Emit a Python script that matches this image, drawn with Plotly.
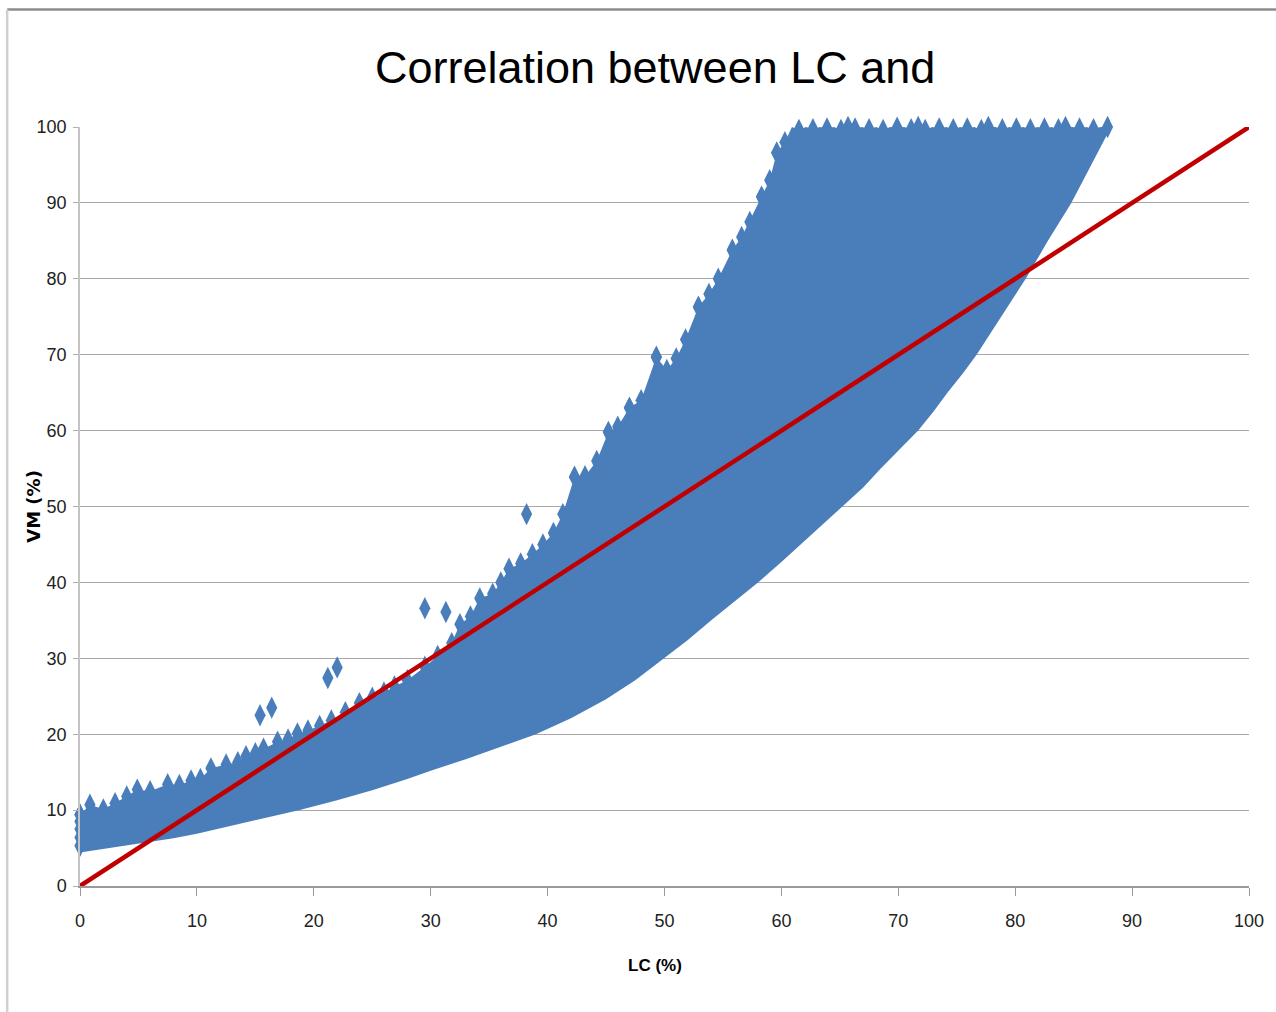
import plotly.graph_objects as go

# ---- data ----
# lower boundary of the dense cloud (LC %, VM %)
band_lower_lc = [0, 2, 5, 8, 10, 12, 14, 16, 18.8, 22, 25, 28, 30, 33, 35, 37, 39, 42, 45,
                 47.5, 50, 52, 54, 56, 58, 60, 62, 64, 65.3, 67, 68.5, 70, 71.7, 73, 74.2,
                 75.5, 76.7, 78.8, 80.9, 82.8, 84.8, 86.5, 88.2]
band_lower_vm = [4.4, 4.9, 5.6, 6.3, 6.9, 7.6, 8.3, 9.0, 10, 11.3, 12.6, 14.1, 15.2, 16.7, 17.8,
                 18.9, 20, 22.1, 24.6, 27.1, 30, 32.4, 35, 37.5, 40, 42.7, 45.5, 48.2, 50, 52.5,
                 55, 57.4, 60, 62.5, 65, 67.5, 70, 75, 80, 85, 90, 95, 100]

# upper edge of the cloud (centres of the outermost diamonds)
band_upper_lc = [0, 0.85, 2.0, 3.0, 4.0, 4.9, 6.0, 7.5, 8.5, 9.5, 10.3, 11.2, 12.5, 13.5,
                 14.2, 15.0, 15.7, 16.9, 17.8, 18.6, 19.5, 20.5, 21.5, 22.7, 23.9, 25.0,
                 26.0, 26.9, 28.0, 29.5, 30.6, 31.8, 32.5, 33.4, 34.2, 35.3, 36.0, 36.7,
                 37.7, 38.7, 39.6, 40.5, 41.3, 42.3, 43.2, 44.2, 45.2, 46.0, 47.0, 48.0,
                 49.3, 50.2, 51.0, 51.8, 52.9, 53.8, 54.6, 55.8, 56.6, 57.3, 58.3, 59.0,
                 59.6, 60.3, 60.9, 61.5, 62.1, 62.7, 63.3, 63.9, 64.5, 65.1, 65.7, 66.3,
                 66.9, 67.5, 68.1, 68.7, 69.3, 69.9, 70.5, 71.1, 71.7, 72.3, 72.9, 73.5,
                 74.1, 74.7, 75.3, 75.9, 76.5, 77.1, 77.7, 78.3, 78.9, 79.5, 80.1, 80.7,
                 81.3, 81.9, 82.5, 83.1, 83.7, 84.3, 84.9, 85.5, 86.1, 86.7, 87.3, 87.9]
band_upper_vm = [9.4, 10.7, 10.1, 10.9, 11.8, 12.7, 12.5, 13.4, 13.3, 13.9, 14.1, 15.5, 16.0, 16.3,
                 17.1, 17.5, 18.1, 19.0, 19.3, 20.1, 20.5, 21.1, 21.8, 22.9, 24.1, 24.8,
                 25.5, 26.3, 27.1, 28.9, 30.3, 32.0, 34.5, 35.5, 37.9, 38.5, 40.0, 41.8,
                 42.5, 43.7, 45.0, 46.5, 49.0, 53.9, 54.0, 56.0, 59.8, 60.5, 63.0, 64.0,
                 69.7, 68.0, 69.5, 72.0, 76.3, 78.0, 80.0, 83.8, 85.5, 87.5, 90.8, 93.0,
                 96.6, 98.0, 100.3, 99.6, 100.1, 99.7, 100.2, 99.8, 100.3, 99.6, 100.0, 99.8,
                 100.3, 99.7, 100.1, 99.6, 100.2, 99.9, 100.3, 99.7, 100.0, 99.6, 100.2, 99.8,
                 100.3, 99.7, 100.1, 99.8, 100.2, 99.6, 100.0, 100.3, 99.7, 100.1, 99.8, 100.2,
                 99.7, 100.1, 99.8, 100.3, 99.7, 100.0, 100.2, 99.8, 100.1, 99.7, 100.2, 100.0]

# left-edge diamonds at LC = 0
left_lc = [0, 0, 0, 0, 0]
left_vm = [5.3, 6.4, 7.5, 8.5, 9.4]

# isolated diamonds above the cloud
outlier_lc = [15.4, 16.4, 21.2, 22.0, 29.5, 31.3, 38.2, 42.3, 45.2, 47.0, 49.3, 52.9, 55.8, 58.3, 59.6]
outlier_vm = [22.5, 23.5, 27.4, 28.8, 36.6, 36.1, 49.0, 53.9, 59.8, 63.0, 69.7, 76.3, 83.8, 90.8, 96.6]

# line LC = VM
fit_lc = [0, 100]
fit_vm = [0, 100]

x_ticks = [0, 10, 20, 30, 40, 50, 60, 70, 80, 90, 100]
y_ticks = [0, 10, 20, 30, 40, 50, 60, 70, 80, 90, 100]

BLUE = "#4A7EBB"
RED = "#C00000"
FONT = "Liberation Sans, Arial, sans-serif"

# polygon: lower edge left->right, top cap, upper edge right->left
poly_x = band_lower_lc + band_upper_lc[::-1]
poly_y = band_lower_vm + [min(v, 100) for v in band_upper_vm[::-1]]

fig = go.Figure()
fig.add_trace(go.Scatter(x=poly_x, y=poly_y, mode="lines", fill="toself",
                         fillcolor=BLUE, line=dict(width=0, color=BLUE),
                         hoverinfo="skip", showlegend=False))
fig.add_trace(go.Scatter(x=band_upper_lc + left_lc, y=band_upper_vm + left_vm, mode="markers",
                         marker=dict(symbol="diamond-tall", size=16, color=BLUE,
                                     line=dict(width=0)),
                         cliponaxis=False, showlegend=False))
fig.add_trace(go.Scatter(x=outlier_lc, y=outlier_vm, mode="markers",
                         marker=dict(symbol="diamond-tall", size=16, color=BLUE,
                                     line=dict(width=0)),
                         cliponaxis=False, showlegend=False))
fig.add_trace(go.Scatter(x=fit_lc, y=fit_vm, mode="lines",
                         line=dict(color=RED, width=4.5), cliponaxis=False,
                         showlegend=False))

fig.update_layout(
    width=1276, height=1012,
    margin=dict(l=80, r=25, t=127, b=126),
    paper_bgcolor="white", plot_bgcolor="white",
    showlegend=False,
    title=dict(text="Correlation between LC and", x=0.492, xref="paper", xanchor="center",
               y=0.9338, yref="container", yanchor="middle",
               font=dict(family=FONT, size=45, color="#000000")),
    xaxis=dict(range=[0, 100], tickvals=x_ticks, ticktext=[str(t) for t in x_ticks],
               showgrid=False, zeroline=False,
               showline=True, linecolor="#9A9A9A", linewidth=1.5,
               ticks="outside", ticklen=8, tickcolor="#9A9A9A", tickwidth=1,
               ticklabelstandoff=10,
               tickfont=dict(family=FONT, size=18, color="#222222")),
    yaxis=dict(range=[0, 100], tickvals=y_ticks, ticktext=[str(t) for t in y_ticks],
               showgrid=True, gridcolor="#A8A8A8", gridwidth=1.4, zeroline=False,
               showline=True, linecolor="#C4C4C4", linewidth=1.5,
               ticks="outside", ticklen=5, tickcolor="#B0B0B0", tickwidth=1,
               ticklabelstandoff=3,
               tickfont=dict(family=FONT, size=18, color="#222222")),
    annotations=[
        dict(text="<b>LC (%)</b>", x=0.4915, y=-0.105, xref="paper", yref="paper",
             xanchor="center", yanchor="middle", showarrow=False,
             font=dict(family=FONT, size=17, color="#000000")),
        dict(text="<b>VM (%)</b>", x=-0.04, y=0.5, xref="paper", yref="paper",
             xanchor="center", yanchor="middle", showarrow=False, textangle=-90,
             font=dict(family="DejaVu Sans, sans-serif", size=18, color="#000000")),
    ],
    shapes=[
        dict(type="line", xref="paper", yref="paper", x0=-0.0623, x1=1.03, y0=1.1548, y1=1.1548,
             line=dict(color="#8C8C8C", width=2.5)),
        dict(type="line", xref="paper", yref="paper", x0=-0.0623, x1=-0.0623, y0=-0.17, y1=1.1548,
             line=dict(color="#D0D0D0", width=2.5)),
    ],
)

fig.write_html("out.html")
